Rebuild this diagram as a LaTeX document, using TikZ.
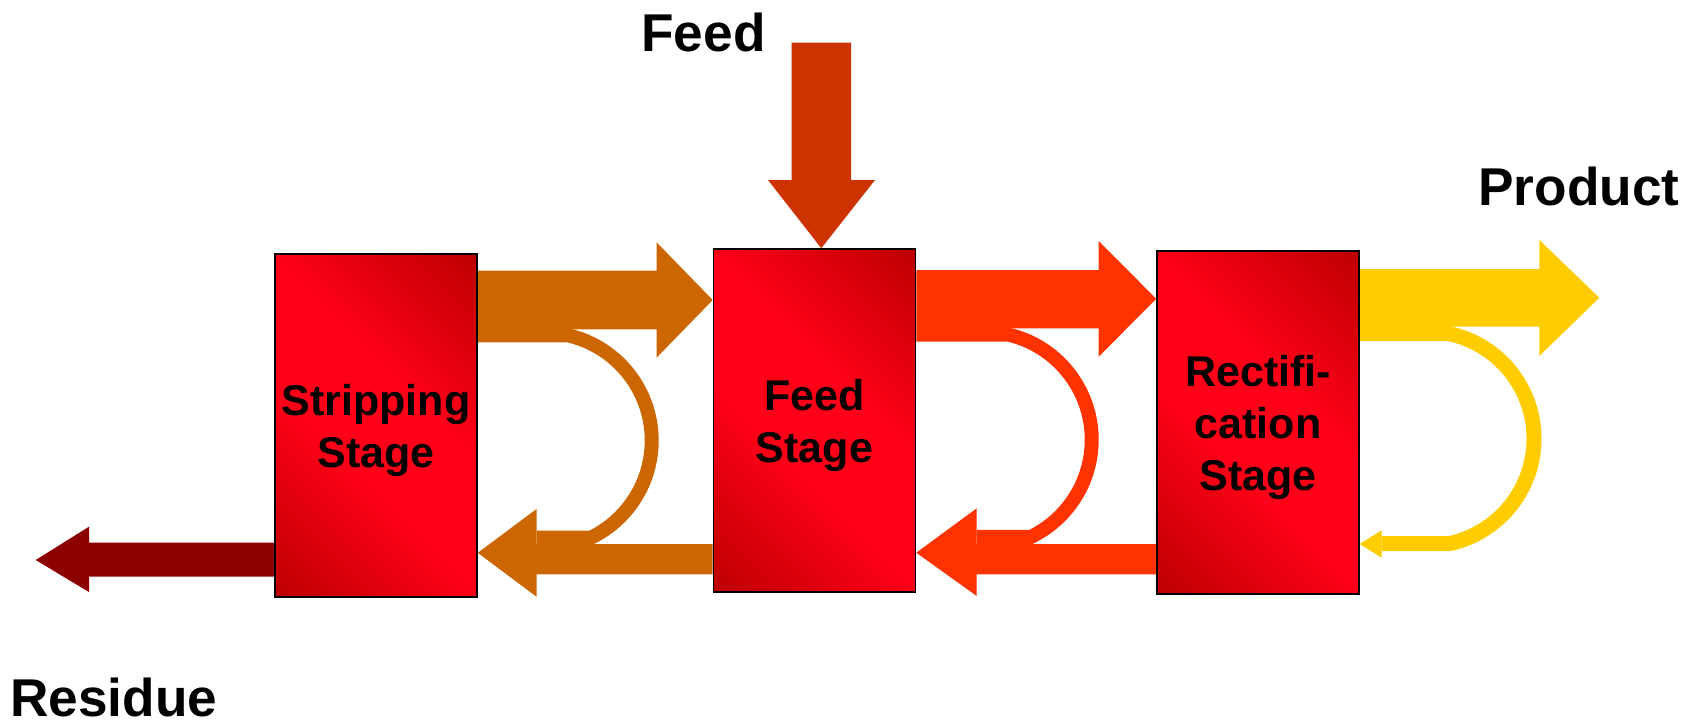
\documentclass[tikz,border=0pt]{standalone}
\usepackage{fontspec}
\setmainfont{Liberation Sans}
\usetikzlibrary{calc}
\pgfdeclarelayer{background}
\pgfsetlayers{background,main}
\definecolor{boxbright}{RGB}{255,0,24}
\definecolor{boxdark}{RGB}{190,0,0}
\definecolor{flowA}{RGB}{204,102,0}
\definecolor{flowB}{RGB}{255,51,0}
\definecolor{flowC}{RGB}{255,204,0}
\definecolor{feedcol}{RGB}{204,51,0}
\definecolor{rescol}{RGB}{140,0,0}
\pgfdeclareverticalshading{stageshade}{100bp}{color(0bp)=(boxdark); color(15bp)=(boxdark); color(42bp)=(boxbright); color(58bp)=(boxbright); color(85bp)=(boxdark); color(100bp)=(boxdark)}
\begin{document}
\begin{tikzpicture}[x=0.5pt,y=-0.5pt,
  stagebox/.style={draw=black, line width=0.8pt, shading=stageshade, shading angle=-45,
    minimum width=101pt, minimum height=171.5pt, inner sep=0pt, align=center,
    font=\fontsize{21.5pt}{26pt}\selectfont\bfseries, text depth=0pt},
  biglabel/.style={inner sep=0pt, anchor=base west, font=\fontsize{26.6pt}{30pt}\selectfont\bfseries},
  band/.style={line width=7pt},
]
\useasboundingbox (0,0) rectangle (1696,724);

% stages
\node[stagebox] (strip)  at (376,425.5)  {Stripping\\Stage};
\node[stagebox] (feedst) at (814.5,420.5) {Feed\\Stage};
\node[stagebox] (rect)   at (1258,422.5) {Rectif{}i-\\cation\\Stage};

% labels
\node[biglabel] (feedlbl) at (641,51)   {Feed};
\node[biglabel] (prodlbl) at (1478,205) {Product};
\node[biglabel] (reslbl)  at (10,716)   {Residue};

\coordinate (prodtip) at (1599.3,297.7);
\coordinate (restip)  at (35.7,560);

\begin{pgfonlayer}{background}
% feed arrow
\fill[feedcol] (791.7,42.7) -- (851,42.7) -- (851,180) -- (875,180)
  -- (821.3,0 |- feedst.north) -- (768,180) -- (791.7,180) -- cycle;

% residue arrow
\fill[rescol] (strip.west |- 0,542.7) -- (89,542.7) -- (89,526.7) -- (restip)
  -- (89,592) -- (89,576.7) -- (strip.west |- 0,576.7) -- cycle;

% pair 1: stripping <-> feed stage
\fill[flowA] (strip.east |- 0,270.7) -- (656.5,270.7) -- (656.5,242.2) -- (feedst.west |- 0,300)
  -- (656.5,357.8) -- (656.5,329.3) -- (strip.east |- 0,329.3) -- cycle;
\draw[flowA, band] (strip.east |- 0,335.3) -- (568,335.3)
  arc[start angle=77, end angle=-64, radius=54pt] -- (536.5,537.6);
\fill[flowA] (feedst.west |- 0,544) -- (536.5,544) -- (536.5,509) -- (strip.east |- 0,552.8)
  -- (536.5,596.7) -- (536.5,574.3) -- (feedst.west |- 0,574.3) -- cycle;

% pair 2: feed stage <-> rectification
\fill[flowB] (feedst.east |- 0,270) -- (1098.7,270) -- (1098.7,241) -- (rect.west |- 0,298.8)
  -- (1098.7,356.7) -- (1098.7,328.3) -- (feedst.east |- 0,328.3) -- cycle;
\draw[flowB, band] (feedst.east |- 0,334.5) -- (1008,334.5)
  arc[start angle=77, end angle=-64, radius=54pt] -- (976.7,536.8);
\fill[flowB] (rect.west |- 0,544) -- (976.7,544) -- (976.7,508.3) -- (feedst.east |- 0,552.7)
  -- (976.7,596) -- (976.7,574.3) -- (rect.west |- 0,574.3) -- cycle;

% pair 3: rectification -> product, reflux
\fill[flowC] (rect.east |- 0,269) -- (1539.3,269) -- (1539.3,240) -- (prodtip)
  -- (1539.3,356) -- (1539.3,326.7) -- (rect.east |- 0,326.7) -- cycle;
\draw[flowC, band, line width=7.5pt] (rect.east |- 0,333.7) -- (1449.3,333.7)
  arc[start angle=77.8, end angle=-77.8, radius=53.7pt] -- (1381.7,543.7);
\fill[flowC] (1381.7,530.3) -- (rect.east |- 0,544) -- (1381.7,557.7) -- cycle;
\end{pgfonlayer}
\end{tikzpicture}
\end{document}
